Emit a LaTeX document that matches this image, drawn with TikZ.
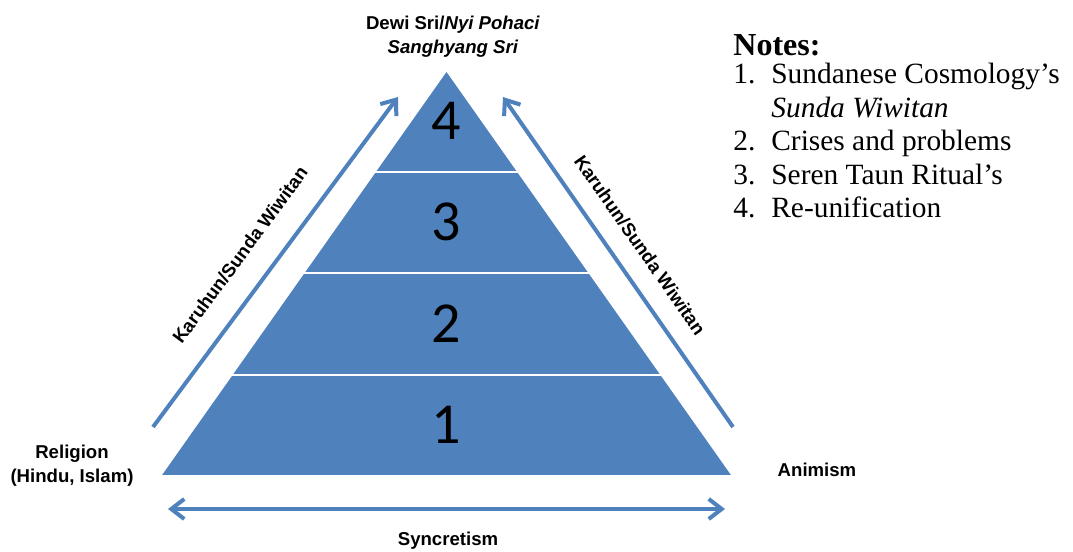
\documentclass[tikz,border=0pt]{standalone}
\usepackage{fontspec}
\setmainfont{Liberation Serif}[ItalicFont={Liberation Serif Italic}, BoldFont={Liberation Serif Bold}]
\setsansfont{Liberation Sans}
\newfontfamily\digitfont{Carlito}
\usepackage{xcolor}
\usepackage{tikz}
\usetikzlibrary{arrows.meta, calc}
\definecolor{pyrblue}{HTML}{4F81BD}

\begin{document}
\begin{tikzpicture}[x=0.5pt, y=-0.5pt,
    layer/.style={fill=pyrblue, draw=white, line width=1pt},
    flow/.style={draw=pyrblue, line width=2pt, -{Straight Barb[length=6.5pt, width=10pt]}},
    lab/.style={font=\sffamily\bfseries\fontsize{9.3}{12}\selectfont, align=center, inner sep=0pt},
    num/.style={font=\digitfont\fontsize{29}{30}\selectfont, inner sep=0pt}]
    \useasboundingbox (0,0) rectangle (1073,552);
    % pyramid
    \coordinate (apex) at (446.5,70);
    \coordinate (baseL) at (160,476);
    \coordinate (baseR) at (733,476);
    \coordinate (baseM) at (446.5,476);
    \filldraw[layer] (apex) -- (baseR) -- (baseL) -- cycle;
    \foreach \f in {0.25, 0.5, 0.75}
        \draw[white, line width=1pt] ($(apex)!\f!(baseL)$) -- ($(apex)!\f!(baseR)$);
    \foreach \f/\n in {0.125/4, 0.375/3, 0.625/2, 0.875/1}
        \node[num] (level\n) at ($(apex)!\f!(baseM)$) {\n};
    % arrows
    \coordinate (leftFrom) at (153,427);
    \coordinate (leftTo) at (398,97);
    \coordinate (rightFrom) at (733,427);
    \coordinate (rightTo) at (503,97);
    \coordinate (syncL) at (168,509);
    \coordinate (syncR) at (725,509);
    \draw[flow] (leftFrom) -- (leftTo);
    \draw[flow] (rightFrom) -- (rightTo);
    \draw[flow, {Straight Barb[length=6.5pt, width=10pt]}-{Straight Barb[length=6.5pt, width=10pt]}] (syncL) -- (syncR);
    % labels
    \node[lab] (top) at (453,37) {Dewi Sri/\textit{Nyi Pohaci}\\ \textit{Sanghyang Sri}};
    \node[lab] (religion) at (72,466) {Religion\\(Hindu, Islam)};
    \node[lab] (animism) at (817,470) {Animism};
    \node[lab] (syncretism) at (448,541) {Syncretism};
    \node[lab, rotate=53.6] (karuhunL) at (240,255) {Karuhun/Sunda Wiwitan};
    \node[lab, rotate=-55.1] (karuhunR) at (640,245) {Karuhun/Sunda Wiwitan};
    % notes
    \node[anchor=base west, inner sep=0pt, font=\fontsize{14.7}{16.8}\selectfont] (notes) at (733,55) {
        \begin{tabular}[t]{@{}p{19pt}@{}l@{}}
            \multicolumn{2}{@{}l@{}}{\fontsize{16}{16.8}\selectfont\textbf{Notes:}} \\[-2.6pt]
            1. & Sundanese Cosmology’s \\
               & \textit{Sunda Wiwitan} \\
            2. & Crises and problems \\
            3. & Seren Taun Ritual’s \\
            4. & Re-unification
        \end{tabular}
    };
\end{tikzpicture}
\end{document}
